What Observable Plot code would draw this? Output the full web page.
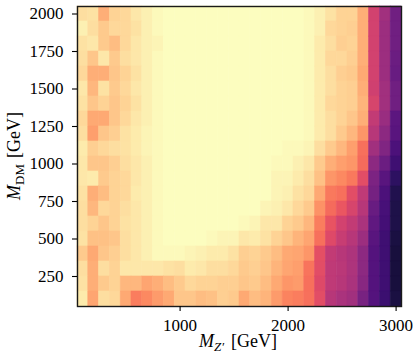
<!DOCTYPE html>
<html>
<head>
<meta charset="utf-8">
<script src="https://cdn.jsdelivr.net/npm/d3@7"></script>
<script src="https://cdn.jsdelivr.net/npm/@observablehq/plot@0.6"></script>
<style>
  html, body { margin: 0; padding: 0; background: white; }
  #chart svg { display: block; }
  #chart svg text { font-family: "Liberation Serif", "DejaVu Serif", serif !important; }
</style>
</head>
<body>
<div id="chart"></div>
<script>
// M_Z' values (columns), GeV
const mZp = [100, 200, 300, 400, 500, 600, 700, 800, 900, 1000,
             1100, 1200, 1300, 1400, 1500, 1600, 1700, 1800, 1900, 2000,
             2100, 2200, 2300, 2400, 2500, 2600, 2700, 2800, 2900, 3000];
// M_DM values (rows, top to bottom), GeV
const mDM = [2000, 1900, 1800, 1700, 1600, 1500, 1400, 1300, 1200, 1100,
             1000, 900, 800, 700, 600, 500, 400, 300, 200, 100];
// tick labels
const xTicks = [1000, 2000, 3000];
const yTicks = [250, 500, 750, 1000, 1250, 1500, 1750, 2000];

// normalised cell values (0 = dark, 1 = light), one row per M_DM, top to bottom
const r2000 = [.93,.94,.83,.91,.92,.95,.97,.99,1,1, 1,1,1,1,1,1,1,1,1,1, 1,.99,.97,.94,.91,.91,.83,.57,.45,.33];
const r1900 = [.97,.93,.89,.92,.92,.94,.97,.99,1,1, 1,1,1,1,1,1,1,1,1,1, 1,.99,.97,.92,.91,.90,.83,.57,.44,.33];
const r1800 = [.94,.95,.89,.86,.92,.95,.97,.98,1,1, 1,1,1,1,1,1,1,1,1,1, 1,.99,.96,.93,.90,.91,.83,.57,.44,.33];
const r1700 = [.93,.88,.95,.89,.93,.95,.97,.99,1,1, 1,1,1,1,1,1,1,1,1,1, 1,.99,.96,.92,.92,.90,.83,.57,.44,.32];
const r1600 = [.92,.83,.83,.88,.91,.94,.97,.99,1,1, 1,1,1,1,1,1,1,1,1,1, 1,.99,.96,.93,.90,.89,.82,.57,.44,.31];
const r1500 = [.95,.85,.94,.89,.92,.95,.97,.99,1,1, 1,1,1,1,1,1,1,1,1,1, 1,.99,.96,.93,.91,.90,.83,.56,.45,.33];
const r1400 = [.94,.88,.91,.88,.91,.94,.97,.99,1,1, 1,1,1,1,1,1,1,1,1,1, 1,.99,.96,.92,.91,.90,.84,.58,.45,.33];
const r1300 = [.92,.82,.82,.88,.92,.95,.97,.99,1,1, 1,1,1,1,1,1,1,1,1,1, 1,.99,.96,.93,.91,.88,.83,.53,.43,.28];
const r1200 = [.93,.80,.88,.90,.94,.96,.98,.99,1,1, 1,1,1,1,1,1,1,1,1,1, 1,.99,.96,.93,.89,.85,.78,.50,.40,.27];
const r1100 = [.96,.90,.92,.93,.94,.96,.98,.99,1,1, 1,1,1,1,1,1,1,1,1,.99, .99,.98,.93,.89,.85,.80,.70,.45,.37,.24];
const r1000 = [.95,.88,.88,.90,.93,.95,.97,.99,1,1, 1,1,1,1,1,1,1,1,.99,.99, .97,.95,.89,.83,.80,.78,.69,.40,.32,.21];
const r900  = [.95,.96,.89,.91,.92,.95,.97,.99,1,1, 1,1,1,1,1,1,1,1,.98,.98, .96,.93,.87,.78,.75,.72,.61,.36,.27,.17];
const r800  = [.94,.83,.86,.91,.92,.96,.97,.99,1,1, 1,1,1,1,1,1,1,1,.98,.97, .94,.92,.82,.72,.70,.61,.52,.34,.24,.14];
const r700  = [.93,.85,.92,.91,.93,.95,.97,.99,1,1, 1,1,1,1,1,1,1,.98,.97,.95, .92,.89,.77,.69,.64,.58,.50,.31,.23,.13];
const r600  = [.93,.91,.88,.91,.94,.95,.97,.99,1,1, 1,1,1,1,1,.99,.98,.95,.95,.91, .89,.85,.73,.63,.57,.53,.47,.29,.22,.13];
const r500  = [.94,.87,.87,.88,.93,.95,.97,.99,1,1, 1,1,.99,.98,.98,.95,.96,.94,.91,.88, .84,.81,.70,.60,.54,.50,.44,.27,.21,.12];
const r400  = [.89,.82,.88,.90,.93,.95,.97,.99,.99,.99, .98,.97,.96,.96,.94,.90,.91,.89,.86,.82, .81,.78,.62,.53,.50,.48,.40,.26,.21,.11];
const r300  = [.93,.83,.93,.91,.95,.95,.95,.95,.94,.93, .96,.95,.93,.93,.92,.89,.90,.88,.84,.81, .80,.71,.61,.52,.51,.48,.40,.26,.21,.11];
const r200  = [.94,.83,.89,.91,.85,.85,.81,.83,.86,.89, .92,.91,.91,.90,.90,.88,.89,.86,.82,.78, .79,.70,.60,.52,.50,.47,.39,.26,.21,.11];
const r100  = [.96,.81,.93,.92,.82,.73,.75,.79,.82,.88, .88,.86,.87,.90,.89,.82,.86,.84,.79,.74, .73,.70,.61,.50,.47,.45,.35,.26,.20,.12];

const rows = [r2000, r1900, r1800, r1700, r1600, r1500, r1400, r1300, r1200, r1100,
              r1000, r900, r800, r700, r600, r500, r400, r300, r200, r100];

// cell half-widths derived from the grid spacing
const dx = (mZp[1] - mZp[0]) / 2;
const dy = (mDM[0] - mDM[1]) / 2;

const cells = [];
rows.forEach((row, i) => row.forEach((v, j) => cells.push({x: mZp[j], y: mDM[i], v})));

const fam = "'Liberation Serif', 'DejaVu Serif', serif";

const plot = Plot.plot({
  width: 416,
  height: 363,
  marginLeft: 77,
  marginRight: 15,
  marginTop: 6,
  marginBottom: 57,
  style: {fontFamily: fam, fontSize: "17px", background: "white", color: "black"},
  x: {domain: [mZp[0] - dx, mZp[mZp.length - 1] + dx]},
  y: {domain: [mDM[mDM.length - 1] - dy, mDM[0] + dy]},
  color: {type: "linear", scheme: "magma", domain: [0, 1]},
  marks: [
    Plot.rect(cells, {
      x1: d => d.x - dx, x2: d => d.x + dx,
      y1: d => d.y - dy, y2: d => d.y + dy,
      fill: "v", stroke: "v", strokeWidth: 0.6
    }),
    Plot.frame({stroke: "#1a1a1a", strokeWidth: 1.4}),
    Plot.axisX({ticks: xTicks, tickFormat: d => String(d), tickSize: 5, tickPadding: 7, label: null, strokeWidth: 1.1}),
    Plot.axisY({ticks: yTicks, tickFormat: d => String(d), tickSize: 5, tickPadding: 9, label: null, strokeWidth: 1.1})
  ]
});

const svg = d3.select(plot);
svg.style("font-family", fam);
svg.selectAll("text").style("font-family", fam).style("font-size", "17px");

// x-axis label: M_{Z'} [GeV]
const xl = svg.append("text")
  .attr("x", 238).attr("y", 347)
  .attr("text-anchor", "middle")
  .style("font-family", fam).style("font-size", "18px").attr("fill", "black");
xl.append("tspan").attr("font-style", "italic").text("M");
xl.append("tspan").attr("font-style", "italic").style("font-size", "13px").attr("dy", 4).text("Z′");
xl.append("tspan").attr("dy", -4).attr("dx", 7).text("[GeV]");

// y-axis label: M_{DM} [GeV]
const yl = svg.append("text")
  .attr("transform", "translate(20,156) rotate(-90)")
  .attr("text-anchor", "middle")
  .style("font-family", fam).style("font-size", "18px").attr("fill", "black");
yl.append("tspan").attr("font-style", "italic").text("M");
yl.append("tspan").style("font-size", "13px").attr("dy", 4).text("DM");
yl.append("tspan").attr("dy", -4).attr("dx", 6).text("[GeV]");

document.getElementById("chart").appendChild(plot);
</script>
</body>
</html>
